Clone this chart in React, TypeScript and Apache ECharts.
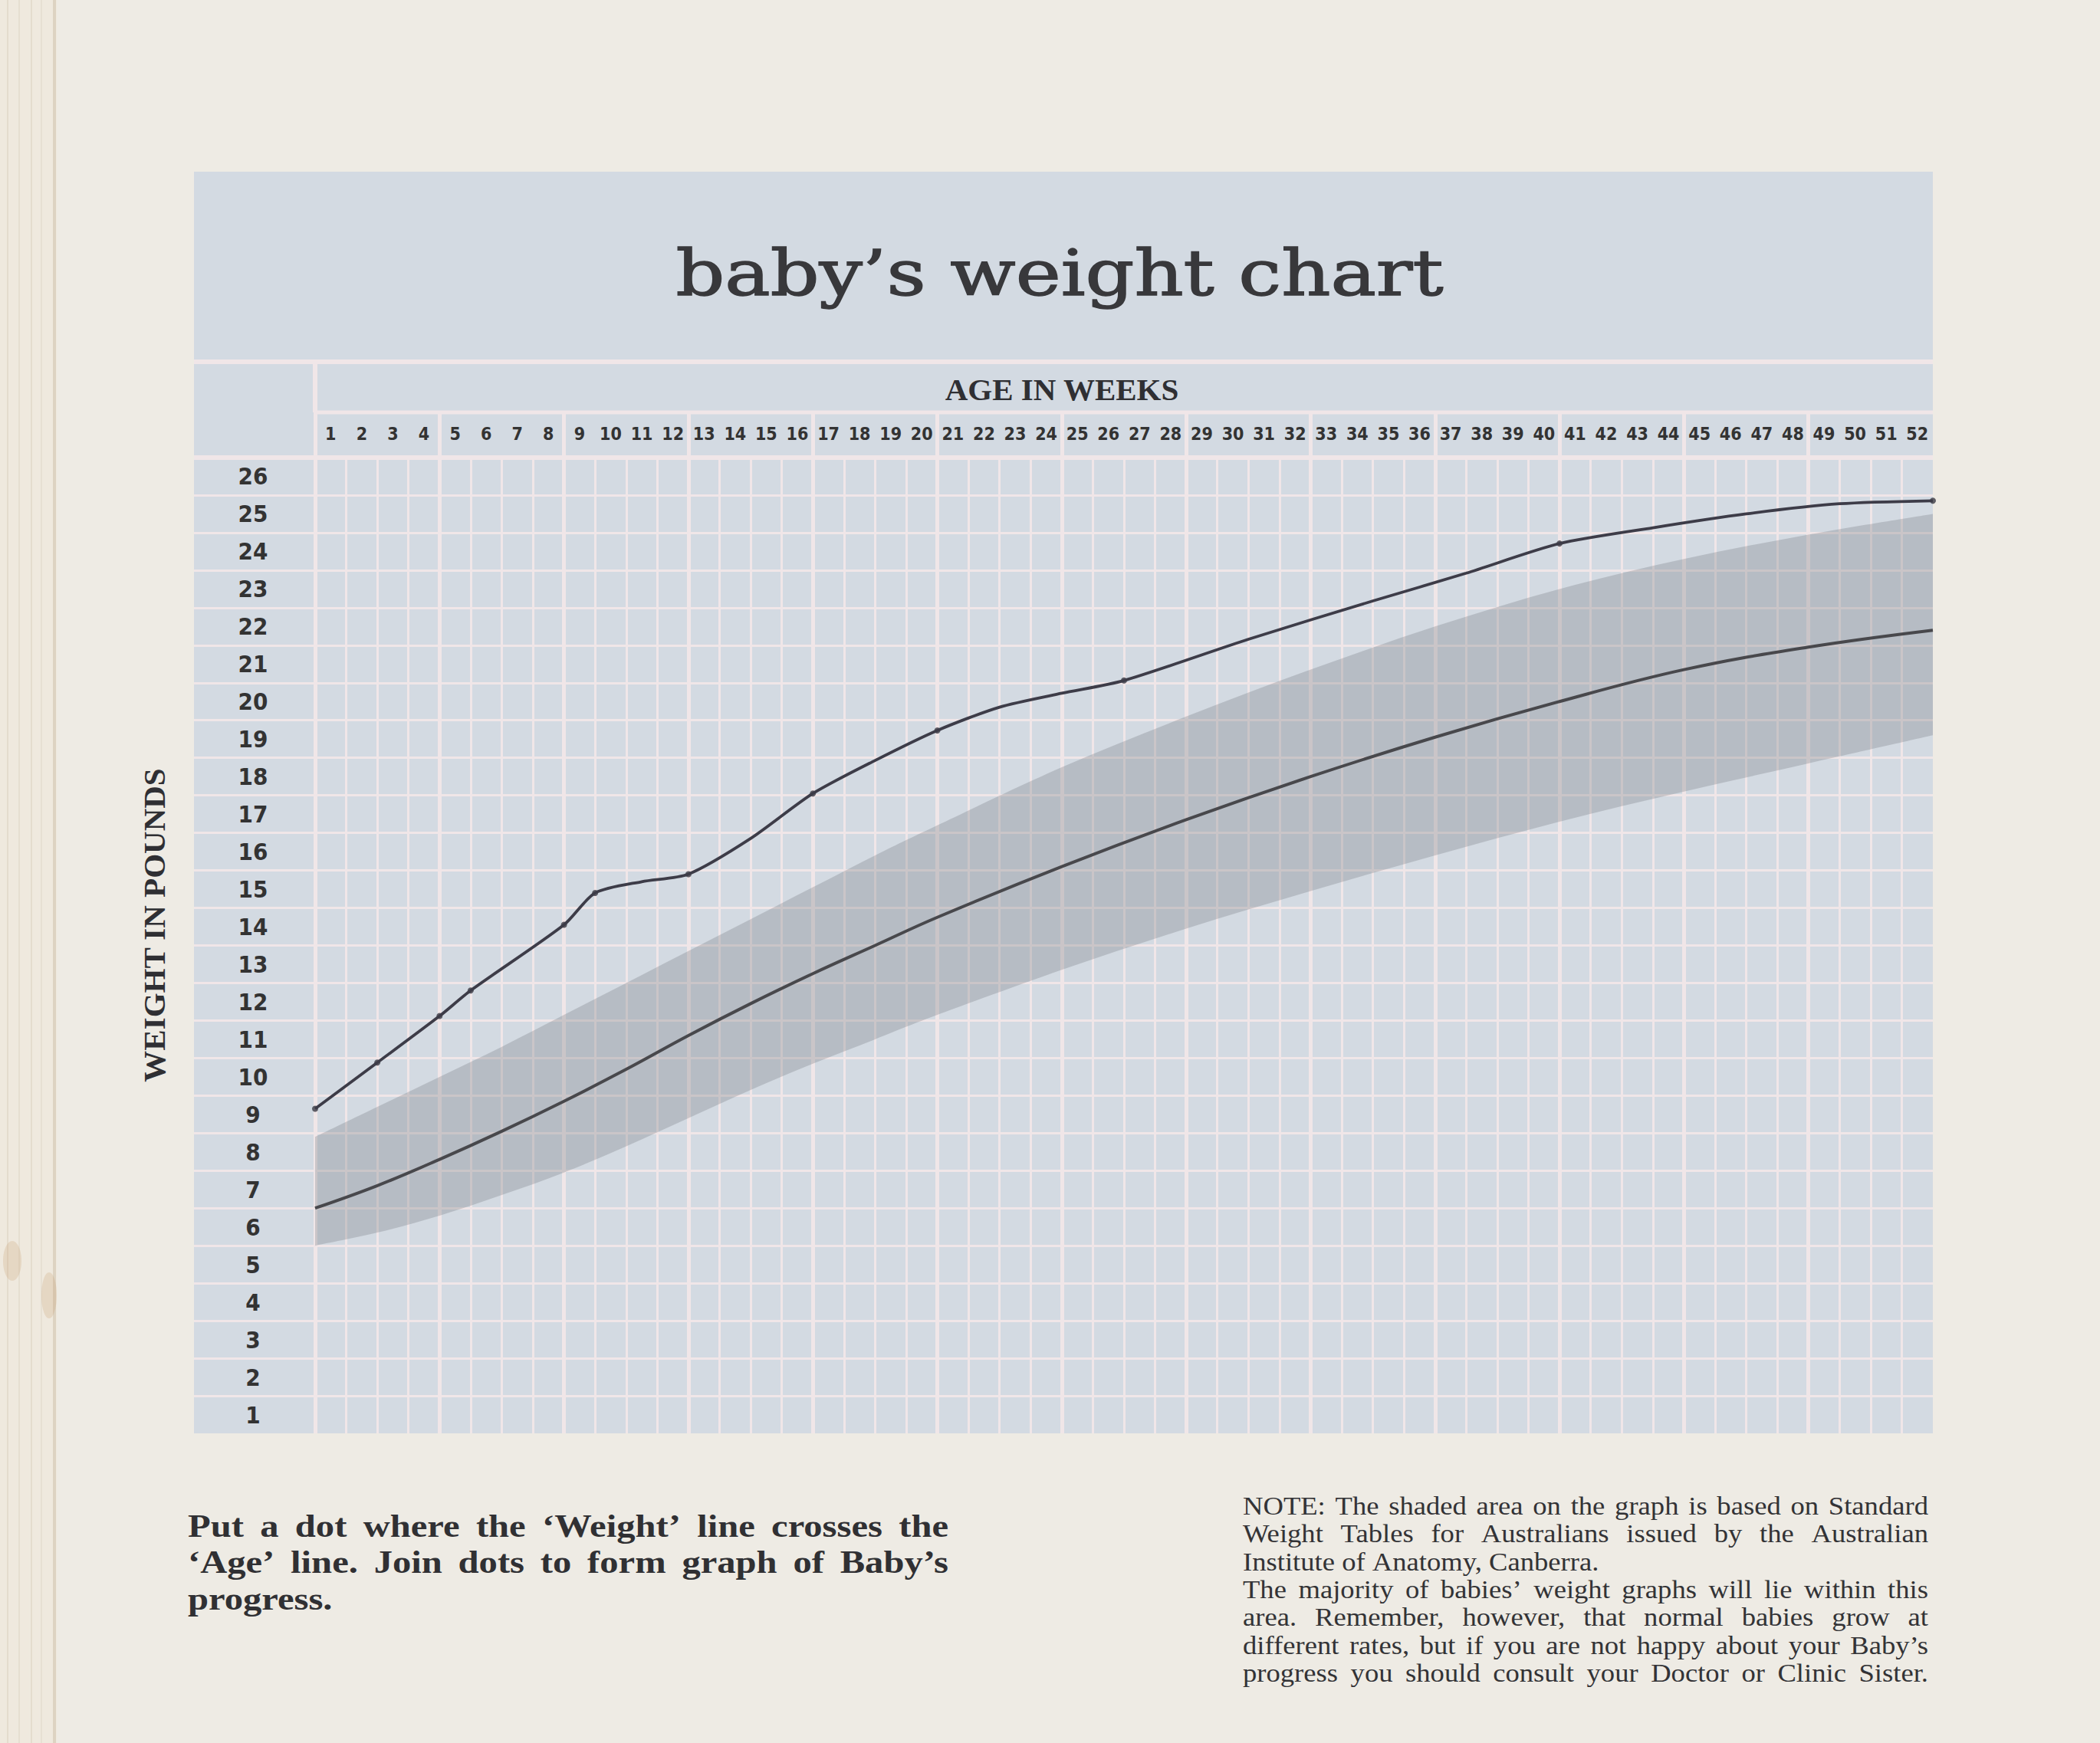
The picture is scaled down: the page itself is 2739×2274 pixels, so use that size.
import React, { useEffect, useRef } from 'react';
import * as echarts from 'echarts';

// ---------- data ----------
const weekLabels = ['1','2','3','4','5','6','7','8','9','10','11','12','13','14','15','16','17','18','19','20','21','22','23','24','25','26','27','28','29','30','31','32','33','34','35','36','37','38','39','40','41','42','43','44','45','46','47','48','49','50','51','52'];
const weightLabels = ['1','2','3','4','5','6','7','8','9','10','11','12','13','14','15','16','17','18','19','20','21','22','23','24','25','26'];

// Standard weight tables (shaded band and its centre line), age in weeks / weight in lb
const bandWeeks = [0, 2, 4, 6, 8, 10, 12, 14, 16, 18, 20, 24, 28, 32, 36, 40, 44, 48, 52];
const bandLower = [5.0, 5.35, 5.8, 6.35, 6.95, 7.65, 8.4, 9.15, 9.85, 10.5, 11.15, 12.35, 13.45, 14.45, 15.4, 16.3, 17.1, 17.85, 18.6];
const bandUpper = [7.9, 8.7, 9.5, 10.3, 11.15, 12.0, 12.85, 13.7, 14.55, 15.4, 16.2, 17.75, 19.1, 20.35, 21.5, 22.5, 23.3, 23.95, 24.5];
const averageWeights = [6.0, 6.6, 7.3, 8.05, 8.85, 9.7, 10.6, 11.45, 12.25, 13.0, 13.75, 15.1, 16.35, 17.5, 18.55, 19.5, 20.35, 20.95, 21.4];

// Baby's hand-drawn progress line
const babyWeeks = [0, 2, 4, 5, 8, 9, 10.5, 12, 14, 16, 18, 20, 22, 24, 26, 30, 34, 37, 40, 43, 46, 49, 52];
const babyWeights = [8.65, 9.88, 11.12, 11.8, 13.55, 14.4, 14.7, 14.9, 15.85, 17.05, 17.93, 18.73, 19.35, 19.72, 20.06, 21.16, 22.18, 22.92, 23.71, 24.13, 24.5, 24.77, 24.85];
const babyDotWeeks = [0, 2, 4, 5, 8, 9, 12, 16, 20, 26, 40, 52];

const titleText = 'baby’s weight chart';
const xTitle = 'AGE IN WEEKS';
const yTitle = 'WEIGHT IN POUNDS';
const instructionLines = [
  'Put a dot where the ‘Weight’ line crosses the',
  '‘Age’ line. Join dots to form graph of Baby’s',
  'progress.',
];
const instructionJustify = [true, true, false];
const noteLines = [
  'NOTE: The shaded area on the graph is based on Standard',
  'Weight Tables for Australians issued by the Australian',
  'Institute of Anatomy, Canberra.',
  'The majority of babies’ weight graphs will lie within this',
  'area. Remember, however, that normal babies grow at',
  'different rates, but if you are not happy about your Baby’s',
  'progress you should consult your Doctor or Clinic Sister.',
];
const noteJustify = [true, true, false, true, true, true, true];

// ---------- layout ----------
const W = 2739;
const H = 2274;
const PAGE = '#eeebe4';
const PANEL = '#d3dae2';
const GRIDLINE = '#f0e6e8';
const INK = '#2f2f33';
const PX = 253, PY = 224;          // panel origin
const PL = 411, PT = 597, PR = 2521, PB = 1870; // plot box
const HEAD1 = 472, HEAD2 = 538;

let ctx: CanvasRenderingContext2D | null = null;
function textWidth(text: string, font: string): number {
  if (!ctx) ctx = document.createElement('canvas').getContext('2d');
  ctx!.font = font;
  return ctx!.measureText(text).width;
}
function fontAvailable(name: string): boolean {
  const s = 'mmmmmmmmmmlliWW 0123456789';
  return ['monospace', 'serif'].some(
    (g) => Math.abs(textWidth(s, `40px ${g}`) - textWidth(s, `40px "${name}", ${g}`)) > 0.5
  );
}
function pickFont(cands: string[], fallback: string): string {
  for (const c of cands) if (fontAvailable(c)) return c;
  return fallback;
}

function paragraph(lines: string[], justify: boolean[], left: number, width: number, firstY: number,
  gap: number, size: number, weight: string, family: string, color: string, fill: number) {
  const font = `${weight} ${size}px "${family}"`;
  const nat = lines.map((l, i) => (justify[i] ? textWidth(l, font) : 0));
  const sx = Math.min(1.25, (fill * width) / Math.max(...nat));
  const out: any[] = [];
  lines.forEach((line, i) => {
    const y = firstY + i * gap;
    const style = { fill: color, fontSize: size, fontWeight: weight, fontFamily: family, align: 'left', verticalAlign: 'middle' };
    const words = line.split(' ');
    const ws = words.map((w) => textWidth(w, font) * sx);
    const total = ws.reduce((a, b) => a + b, 0);
    const space = textWidth(' ', font) * sx;
    const g = justify[i] ? (width - total) / (words.length - 1) : space;
    let x = left;
    words.forEach((w, j) => {
      out.push({ type: 'text', x, y, z: 10, scaleX: sx, style: { ...style, text: w } });
      x += ws[j] + g;
    });
  });
  return out;
}

function splinePath(pts: number[][], move: boolean): string {
  let d = `${move ? 'M' : 'L'}${pts[0][0].toFixed(1)},${pts[0][1].toFixed(1)}`;
  for (let i = 0; i < pts.length - 1; i++) {
    const p0 = pts[Math.max(0, i - 1)], p1 = pts[i], p2 = pts[i + 1], p3 = pts[Math.min(pts.length - 1, i + 2)];
    const c1 = [p1[0] + (p2[0] - p0[0]) / 6, p1[1] + (p2[1] - p0[1]) / 6];
    const c2 = [p2[0] - (p3[0] - p1[0]) / 6, p2[1] - (p3[1] - p1[1]) / 6];
    d += ` C${c1[0].toFixed(1)},${c1[1].toFixed(1)} ${c2[0].toFixed(1)},${c2[1].toFixed(1)} ${p2[0].toFixed(1)},${p2[1].toFixed(1)}`;
  }
  return d;
}

function buildOption() {
  const condensed = pickFont(['Liberation Sans Narrow', 'DejaVu Sans Condensed', 'Roboto Condensed', 'Arial Narrow'], 'Roboto');
  const serif = 'Liberation Serif';
  const titleFamily = 'DejaVu Serif';
  const titleSize = 82;
  const titleNat = textWidth(titleText, `normal ${titleSize}px "${titleFamily}"`);
  const titleScale = 1001 / titleNat;

  const pageEdges: any[] = [
    { type: 'rect', z: -20, shape: { x: 0, y: 0, width: 74, height: H }, style: { fill: '#efe9de' } },
    { type: 'rect', z: -19, shape: { x: 9, y: 0, width: 2, height: H }, style: { fill: '#e4dccd' } },
    { type: 'rect', z: -19, shape: { x: 24, y: 0, width: 2, height: H }, style: { fill: '#e6dfd1' } },
    { type: 'rect', z: -19, shape: { x: 40, y: 0, width: 2, height: H }, style: { fill: '#e4dccd' } },
    { type: 'rect', z: -19, shape: { x: 53, y: 0, width: 2, height: H }, style: { fill: '#e7e0d3' } },
    { type: 'rect', z: -19, shape: { x: 69, y: 0, width: 4, height: H }, style: { fill: '#ddd3c2' } },
    { type: 'ellipse', z: -18, shape: { cx: 16, cy: 1645, rx: 12, ry: 26 }, style: { fill: 'rgba(195,150,100,0.22)' } },
    { type: 'ellipse', z: -18, shape: { cx: 64, cy: 1690, rx: 10, ry: 30 }, style: { fill: 'rgba(195,150,100,0.22)' } },
  ];

  const structure: any[] = [
    { type: 'rect', z: -10, shape: { x: PX, y: PY, width: PR - PX, height: PB - PY }, style: { fill: PANEL } },
    { type: 'rect', z: -5, shape: { x: PX, y: HEAD1 - 3, width: PR - PX, height: 6 }, style: { fill: GRIDLINE } },
    { type: 'rect', z: -5, shape: { x: PL, y: HEAD2 - 2.5, width: PR - PL, height: 5 }, style: { fill: GRIDLINE } },
    { type: 'rect', z: -5, shape: { x: PL - 3, y: HEAD1, width: 6, height: HEAD2 - HEAD1 }, style: { fill: GRIDLINE } },
    { type: 'rect', z: -5, shape: { x: PX, y: PT - 3, width: PR - PX, height: 6 }, style: { fill: GRIDLINE } },
  ];

  const texts: any[] = [
    {
      type: 'text', x: 1382, y: 357, z: 10, scaleX: titleScale,
      style: { text: titleText, fill: '#38383b', stroke: '#38383b', lineWidth: 1.4, fontSize: titleSize, fontFamily: titleFamily, align: 'center', verticalAlign: 'middle' },
    },
    {
      type: 'text', x: 1385, y: 508, z: 10,
      style: { text: xTitle, fill: INK, fontSize: 41, fontWeight: 'bold', fontFamily: serif, align: 'center', verticalAlign: 'middle' },
    },
    {
      type: 'text', x: 201, y: 1207, z: 10, rotation: Math.PI / 2,
      style: { text: yTitle, fill: INK, fontSize: 41, fontWeight: 'bold', fontFamily: serif, align: 'center', verticalAlign: 'middle' },
    },
    ...paragraph(instructionLines, instructionJustify, 245, 992, 1991, 47.5, 42, 'bold', serif, '#303033', 0.93),
    ...paragraph(noteLines, noteJustify, 1621, 894, 1965, 36.3, 34, 'normal', serif, '#333336', 0.96),
  ];

  const hidden = { axisLine: { show: false }, axisTick: { show: false }, axisLabel: { show: false } };

  return {
    animation: false,
    backgroundColor: PAGE,
    grid: [
      { left: PL, top: PT, width: PR - PL, height: PB - PT },
      { left: PL, top: HEAD2, width: PR - PL, height: PB - HEAD2 },
      { left: PX, top: PT, width: PL - PX, height: PB - PT },
    ],
    xAxis: [
      { gridIndex: 0, type: 'value', min: 0, max: 52, interval: 1, position: 'bottom', ...hidden,
        splitLine: { show: true, showMaxLine: false, lineStyle: { color: GRIDLINE, width: 3 } } },
      { gridIndex: 0, type: 'category', data: weekLabels, position: 'top', boundaryGap: true,
        axisLine: { show: false }, axisTick: { show: false }, splitLine: { show: false },
        axisLabel: { interval: 0, margin: 31, verticalAlign: 'middle', fontSize: 23, fontWeight: 'bold', color: '#333', fontFamily: condensed } },
      { gridIndex: 1, type: 'value', min: 0, max: 52, interval: 4, ...hidden,
        splitLine: { show: true, showMaxLine: false, lineStyle: { color: GRIDLINE, width: 5 } } },
      { gridIndex: 2, type: 'value', show: false, min: 0, max: 1 },
    ],
    yAxis: [
      { gridIndex: 0, type: 'value', min: 0, max: 26, interval: 1, position: 'right', ...hidden,
        splitLine: { show: true, showMinLine: false, lineStyle: { color: GRIDLINE, width: 3 } } },
      { gridIndex: 0, type: 'category', data: weightLabels, position: 'left', boundaryGap: true,
        axisLine: { show: false }, axisTick: { show: false }, splitLine: { show: false },
        axisLabel: { interval: 0, margin: 81, align: 'center', fontSize: 31, fontWeight: 'bold', color: '#333', fontFamily: condensed } },
      { gridIndex: 1, type: 'value', show: false, min: 0, max: 1 },
      { gridIndex: 2, type: 'value', min: 0, max: 26, interval: 1, ...hidden,
        splitLine: { show: true, showMinLine: false, lineStyle: { color: GRIDLINE, width: 3 } } },
    ],
    graphic: { elements: [...pageEdges, ...structure, ...texts] },
    series: [
      {
        name: 'Standard range', type: 'custom', xAxisIndex: 0, yAxisIndex: 0, silent: true,
        data: bandWeeks.map((w, i) => [w, bandLower[i], bandUpper[i]]),
        encode: { x: 0, y: [1, 2] },
        renderItem: (params: any, api: any) => {
          if (params.dataIndex !== 0) return null;
          const up = bandWeeks.map((w, i) => api.coord([w, bandUpper[i]]));
          const lo = bandWeeks.map((w, i) => api.coord([w, bandLower[i]])).reverse();
          const d = splinePath(up, true) + ' ' + splinePath(lo, false) + ' Z';
          return { type: 'path', shape: { pathData: d }, style: { fill: 'rgba(120,124,130,0.31)' } };
        },
      },
      { name: 'Standard average', type: 'line', xAxisIndex: 0, yAxisIndex: 0,
        data: bandWeeks.map((w, i) => [w, averageWeights[i]]),
        symbol: 'none', smooth: 0.4, lineStyle: { color: '#48484c', width: 4 } },
      { name: 'Baby', type: 'line', xAxisIndex: 0, yAxisIndex: 0,
        data: babyWeeks.map((w, i) => [w, babyWeights[i]]),
        symbol: 'none', smooth: 0.25, lineStyle: { color: '#3d3c48', width: 3.8 } },
      { name: 'Baby dots', type: 'scatter', xAxisIndex: 0, yAxisIndex: 0,
        data: babyDotWeeks.map((w) => [w, babyWeights[babyWeeks.indexOf(w)]]),
        symbol: 'circle', symbolSize: 8, itemStyle: { color: '#3a3944' } },
    ],
  };
}

export default function App() {
  const ref = useRef<HTMLDivElement>(null);
  useEffect(() => {
    const el = ref.current!;
    const chart = echarts.init(el, null, { renderer: 'svg', width: W, height: H });
    chart.setOption(buildOption() as any);
    return () => chart.dispose();
  }, []);
  return <div ref={ref} style={{ position: 'absolute', left: 0, top: 0, width: W, height: H }} />;
}
